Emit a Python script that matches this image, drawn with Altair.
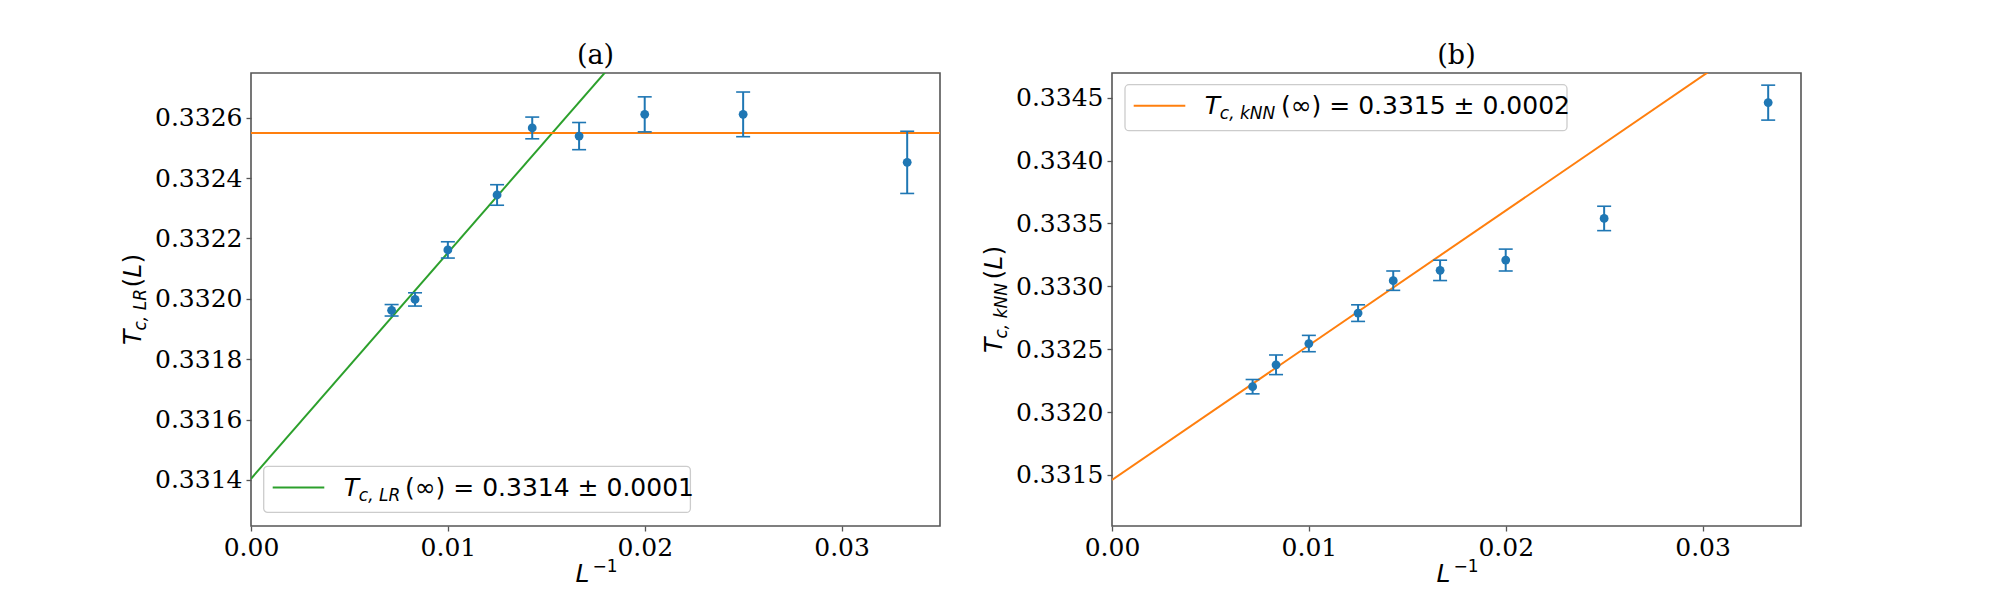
import altair as alt
import pandas as pd

# ---------------- data ----------------
inv_L = [0.007143, 0.008333, 0.010, 0.0125, 0.014286, 0.016667, 0.020, 0.025, 0.033333]

tc_lr = [0.331962, 0.331998, 0.332162, 0.332344, 0.332566, 0.332539, 0.332611, 0.332611, 0.332452]
err_lr = [0.000019, 0.000022, 0.000027, 0.000034, 0.000036, 0.000045, 0.000058, 0.000074, 0.000103]

tc_knn = [0.332202, 0.332376, 0.332545, 0.332787, 0.333045, 0.333127, 0.333209, 0.333540, 0.334461]
err_knn = [0.000057, 0.000078, 0.000065, 0.000066, 0.000077, 0.000081, 0.000087, 0.000097, 0.000139]

fit_x = [0.0, 0.035]
fit_lr_y = [0.331404, 0.334023]
flat_lr_y = [0.332549, 0.332549]
fit_knn_y = [0.331460, 0.335209]

x_ticks = [0.0, 0.01, 0.02, 0.03]
y_ticks_a = [0.3314, 0.3316, 0.3318, 0.3320, 0.3322, 0.3324, 0.3326]
y_ticks_b = [0.3315, 0.3320, 0.3325, 0.3330, 0.3335, 0.3340, 0.3345]
y_dom_a = [0.3312475, 0.332748]
y_dom_b = [0.331094, 0.3346966]

BLUE = "#1f77b4"
ORANGE = "#ff7f0e"
GREEN = "#2ca02c"
SPINE = "#555555"
W, H = 689, 453

x_scale = alt.Scale(domain=[0.0, 0.035], nice=False, zero=False)


def x_enc(field="x"):
    return alt.X(f"{field}:Q", scale=x_scale,
                 axis=alt.Axis(values=x_ticks, format=".2f", title=None))


def y_enc(field, dom, ticks):
    return alt.Y(f"{field}:Q", scale=alt.Scale(domain=dom, nice=False, zero=False),
                 axis=alt.Axis(values=ticks, format=".4f", title=None))


def txt(s, x, y, size=25, font="DejaVu Sans", style="normal", align="left", angle=0):
    return alt.Chart(pd.DataFrame({"t": [s]})).mark_text(
        align=align, baseline="alphabetic", font=font, fontSize=size,
        fontStyle=style, angle=angle, color="black"
    ).encode(text="t:N", x=alt.value(x), y=alt.value(y))


def panel(tc, err, lines, dom, ticks, label, leg, ysub, ysub_adv, ystart, anchor):
    pts = pd.DataFrame({
        "x": inv_L, "y": tc,
        "lo": [v - e for v, e in zip(tc, err)],
        "hi": [v + e for v, e in zip(tc, err)],
    })
    layers = []
    for ly, col in lines:
        df = pd.DataFrame({"x": fit_x, "y": ly})
        layers.append(alt.Chart(df).mark_line(clip=True, strokeWidth=2, color=col)
                      .encode(x=x_enc(), y=y_enc("y", dom, ticks)))
    base = alt.Chart(pts)
    layers.append(base.mark_rule(color=BLUE, strokeWidth=2)
                  .encode(x=x_enc(), y=y_enc("lo", dom, ticks), y2="hi:Q"))
    layers.append(base.mark_tick(orient="horizontal", size=14, thickness=1.6, color=BLUE, opacity=1)
                  .encode(x=x_enc(), y=y_enc("lo", dom, ticks)))
    layers.append(base.mark_tick(orient="horizontal", size=14, thickness=1.6, color=BLUE, opacity=1)
                  .encode(x=x_enc(), y=y_enc("hi", dom, ticks)))
    layers.append(base.mark_circle(size=78, color=BLUE, opacity=1)
                  .encode(x=x_enc(), y=y_enc("y", dom, ticks)))

    # legend box
    (bx1, bx2, by1, by2), (lx1, lx2, ly0), lcol, ty, tsub, tmain, mx = leg
    layers.append(alt.Chart(pd.DataFrame({"a": [0]})).mark_rect(
        cornerRadius=4, fill="white", fillOpacity=0.8, stroke="#cccccc", strokeWidth=1.3
    ).encode(x=alt.value(bx1), x2=alt.value(bx2), y=alt.value(by1), y2=alt.value(by2)))
    layers.append(alt.Chart(pd.DataFrame({"a": [0]})).mark_rule(color=lcol, strokeWidth=2)
                  .encode(x=alt.value(lx1), x2=alt.value(lx2), y=alt.value(ly0)))
    layers.append(txt("T", lx2 + 19.5, ty, style="italic"))
    layers.append(txt(tsub, lx2 + 34.5, ty + 5, size=17, style="italic"))
    layers.append(txt(tmain, mx, ty))

    # panel title
    layers.append(txt(label, W / 2, -9.5, size=27, font="DejaVu Serif", align="center"))

    # x-axis title  L^{-1}
    layers.append(txt("L", 324.5, 509.4, style="italic"))
    layers.append(txt("\u22121", 341.5, 499.4, size=17))

    # y-axis title  T_{sub}(L), rotated
    y0 = ystart
    layers.append(txt("T", -110, y0, style="italic", angle=270))
    layers.append(txt(ysub, -105, y0 - 14.5, size=17, style="italic", angle=270))
    yp = y0 - 14.5 - ysub_adv
    layers.append(txt("(", -110, yp, angle=270))
    layers.append(txt("L", -110, yp - 9.8, style="italic", angle=270))
    layers.append(txt(")", -110, yp - 9.8 - 14.2, angle=270))

    if anchor:
        layers.append(alt.Chart(pd.DataFrame({"a": [0]})).mark_rule(
            strokeOpacity=0, strokeWidth=1
        ).encode(x=alt.value(-241.5), x2=alt.value(-241.5), y=alt.value(-63.8), y2=alt.value(-63.8)))

    return alt.layer(*layers).properties(width=W, height=H)


leg_a = ((12.7, 439.4, 393.4, 439.4), (21.7, 73.3, 414.4), GREEN, 422.7,
         "c, LR", "(\u221e) = 0.3314 \u00b1 0.0001", 154)
leg_b = ((13, 455, 11.7, 57.7), (21.7, 73.3, 32.7), ORANGE, 41,
         "c, kNN", "(\u221e) = 0.3315 \u00b1 0.0002", 169)

pa = panel(tc_lr, err_lr, [(fit_lr_y, GREEN), (flat_lr_y, ORANGE)], y_dom_a, y_ticks_a,
           "(a)", leg_a, "c, LR", 43, 272, True)
pb = panel(tc_knn, err_knn, [(fit_knn_y, ORANGE)], y_dom_b, y_ticks_b,
           "(b)", leg_b, "c, kNN", 59, 280, False)

chart = alt.hconcat(pa, pb, spacing=172, bounds="flush").properties(
    padding=0
).configure_view(
    stroke=SPINE, strokeWidth=1.6
).configure_axis(
    domain=False, grid=False, ticks=True, tickColor=SPINE, tickWidth=1.3, tickSize=5,
    labelFont="DejaVu Serif", labelFontSize=25, labelColor="black", labelPadding=4,
    labelFlush=False, labelOverlap=False
)

chart.save("out.html", embed_options={"renderer": "svg", "actions": False})
